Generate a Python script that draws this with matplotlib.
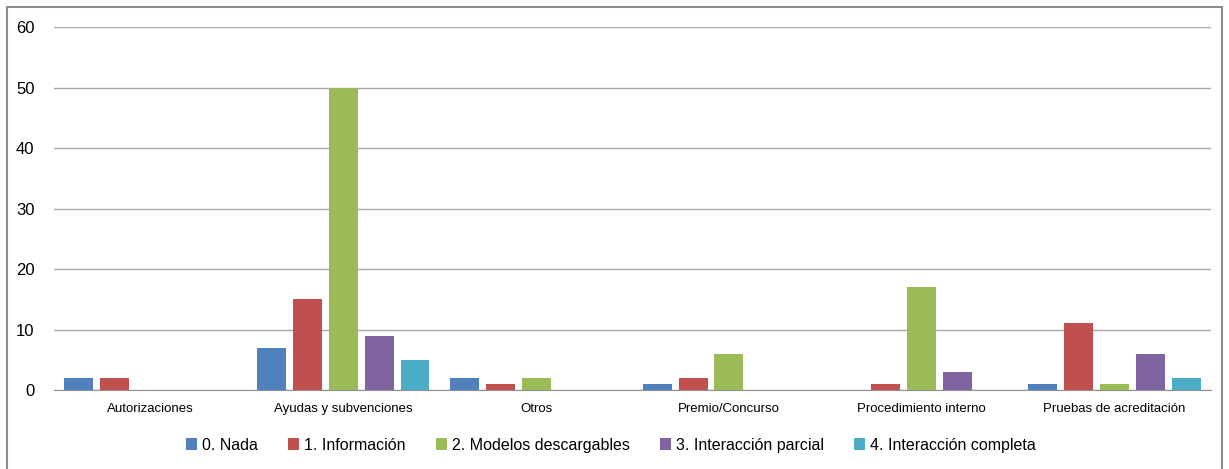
import numpy as np
from matplotlib import pyplot as plt
from matplotlib.patches import Rectangle

categorias = ['Autorizaciones', 'Ayudas y subvenciones', 'Otros', 'Premio/Concurso',
              'Procedimiento interno', 'Pruebas de acreditación']
series = ['0. Nada', '1. Información', '2. Modelos descargables',
          '3. Interacción parcial', '4. Interacción completa']
nada = [2, 7, 2, 1, 0, 1]
informacion = [2, 15, 1, 2, 1, 11]
modelos = [0, 50, 2, 6, 17, 1]
parcial = [0, 9, 0, 0, 3, 6]
completa = [0, 5, 0, 0, 0, 2]
colores = ['#4F81BD', '#C0504D', '#9BBB59', '#8064A2', '#4BACC6']

plt.rcParams['font.family'] = ['Liberation Sans', 'DejaVu Sans']

fig = plt.figure(figsize=(12.29, 4.69), dpi=100)
ax = fig.add_axes([0.0439, 0.1684, 0.9415, 0.774])

x = np.arange(len(categorias))
paso = 0.186  # separacion entre barras
ancho = 0.15
datos = [nada, informacion, modelos, parcial, completa]
for i, (vals, nombre, col) in enumerate(zip(datos, series, colores)):
    ax.bar(x + (i - 2) * paso, vals, ancho, color=col, label=nombre, zorder=3)

ax.set_xlim(-0.5, len(categorias) - 0.5)
ax.set_ylim(0, 60)
ax.set_yticks(range(0, 61, 10))
ax.set_xticks(x)
ax.set_xticklabels(categorias, fontsize=9.5)
ax.tick_params(axis='both', length=0)
ax.tick_params(axis='y', labelsize=12, pad=14)
ax.tick_params(axis='x', pad=9)
ax.grid(axis='y', color='#A6A6A6', linewidth=1, zorder=0)
for s in ['top', 'right', 'left']:
    ax.spines[s].set_visible(False)
ax.spines['bottom'].set_color('#909090')

fig.legend(loc='center', bbox_to_anchor=(0.497, 1 - 445 / 469), ncol=5, frameon=False,
           fontsize=11.5, handlelength=0.7, handleheight=0.7, handletextpad=0.3,
           columnspacing=1.9)

# marco exterior
fig.patches.append(Rectangle((7 / 1229, -0.05), 1215 / 1229, 1 - 7 / 469 + 0.05,
                             transform=fig.transFigure, fill=False,
                             edgecolor='#8C8C8C', linewidth=1.5))

plt.savefig('out.png', dpi=100)
